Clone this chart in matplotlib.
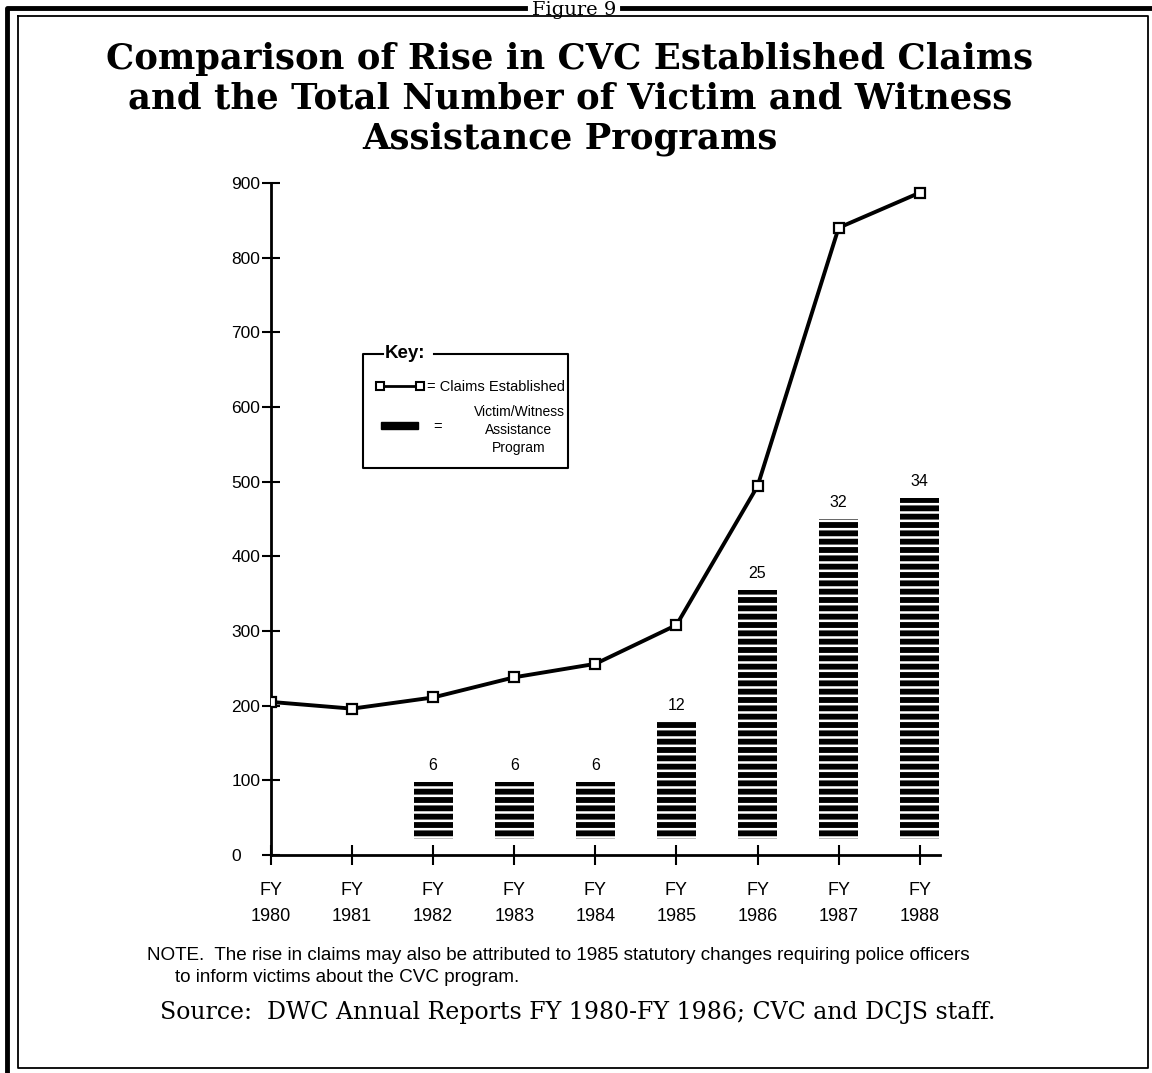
import matplotlib
matplotlib.use('Agg')
import matplotlib.pyplot as plt
from matplotlib.patches import Rectangle
from matplotlib.lines import Line2D

# data
years = ['1980', '1981', '1982', '1983', '1984', '1985', '1986', '1987', '1988']
claims = [205, 196, 211, 238, 256, 308, 494, 840, 887]
bar_years = ['1982', '1983', '1984', '1985', '1986', '1987', '1988']
programs = [6, 6, 6, 12, 25, 32, 34]
bar_tops = [98, 98, 98, 178, 355, 450, 478]
bar_base = 22

W, H = 1152, 1073
plt.rcParams['font.family'] = ['Liberation Sans', 'DejaVu Sans']
plt.rcParams['hatch.linewidth'] = 1.8
plt.rcParams['hatch.color'] = 'white'

fig = plt.figure(figsize=(W / 100, H / 100), dpi=100)


def px(x, y):
    # pixel position (from top left) -> figure fraction
    return x / W, 1 - y / H


ax = fig.add_axes([271 / W, 1 - 855 / H, (940 - 271) / W, (855 - 183) / H])

xi = list(range(len(years)))
bx = [years.index(y) for y in bar_years]
heights = [t - bar_base for t in bar_tops]
ax.bar(bx, heights, bottom=bar_base, width=0.48, color='black',
       hatch='--', linewidth=0, zorder=2)
for x, t, n in zip(bx, bar_tops, programs):
    ax.text(x, t + 12, str(n), ha='center', va='bottom', fontsize=11.5)

ax.plot(xi, claims, color='black', linewidth=2.8, marker='s', markersize=7.5,
        markerfacecolor='white', markeredgecolor='black',
        markeredgewidth=1.6, zorder=3)

ax.set_xlim(0, 8.25)
ax.set_ylim(0, 900)
ax.set_yticks(range(0, 901, 100))
ax.set_xticks(xi)
ax.set_xticklabels(['FY\n' + y for y in years], linespacing=1.65,
                   fontsize=13)
ax.tick_params(axis='y', labelsize=12.5, direction='inout', length=13,
               width=1.5, pad=22)
for lab in ax.get_yticklabels():
    lab.set_horizontalalignment('left')
ax.tick_params(axis='x', direction='inout', length=15, width=1.5, pad=12)
for s in ['top', 'right']:
    ax.spines[s].set_visible(False)
for s in ['left', 'bottom']:
    ax.spines[s].set_linewidth(2)
ax.patch.set_alpha(0)

# title
fig.text(*px(570, 99), 'Comparison of Rise in CVC Established Claims\n'
         'and the Total Number of Victim and Witness\nAssistance Programs',
         ha='center', va='center', fontsize=25.5, fontweight='bold',
         family='DejaVu Serif', linespacing=1.2)

# key box
fig.add_artist(Line2D(*zip(px(383, 354), px(363, 354), px(363, 468),
                           px(568, 468), px(568, 354), px(434, 354)),
                      color='black', linewidth=1.5))
fig.text(*px(385, 354), 'Key:', ha='left', va='center', fontsize=13.5,
         fontweight='bold')
fig.add_artist(Line2D(*zip(px(380, 386), px(420, 386)), color='black',
                      linewidth=2, marker='s', markersize=6,
                      markerfacecolor='white', markeredgewidth=1.5))
fig.text(*px(427, 387), '= Claims Established', ha='left', va='center',
         fontsize=10.5)
fig.add_artist(Rectangle(px(381, 429), 37 / W, 7 / H, color='black'))
fig.text(*px(433, 427), '=', ha='left', va='center', fontsize=10.5)
fig.text(*px(519, 430), 'Victim/Witness\nAssistance\nProgram', ha='center',
         va='center', fontsize=10, linespacing=1.4)

# notes
fig.text(*px(147, 955), 'NOTE.  The rise in claims may also be attributed '
         'to 1985 statutory changes requiring police officers',
         ha='left', va='center', fontsize=13.6)
fig.text(*px(175, 977), 'to inform victims about the CVC program.',
         ha='left', va='center', fontsize=13.6)
fig.text(*px(160, 1013), 'Source:  DWC Annual Reports FY 1980-FY 1986; '
         'CVC and DCJS staff.', ha='left', va='center', fontsize=17,
         family='DejaVu Serif')

# frame
fig.add_artist(Line2D(*zip(px(7, 1073), px(7, 8), px(525, 8)),
                      color='black', linewidth=3.5))
fig.add_artist(Line2D(*zip(px(622, 8), px(1152, 8)),
                      color='black', linewidth=3.5))
fig.add_artist(Line2D(*zip(px(18, 16), px(18, 1068), px(1148, 1068),
                           px(1148, 16), px(18, 16)),
                      color='black', linewidth=1.3))
fig.add_artist(Rectangle(px(527, 19), 94 / W, 19 / H, color='white'))
fig.text(*px(574, 10), 'Figure 9', ha='center', va='center', fontsize=14,
         family='DejaVu Serif')

fig.savefig('out.png', dpi=100)
